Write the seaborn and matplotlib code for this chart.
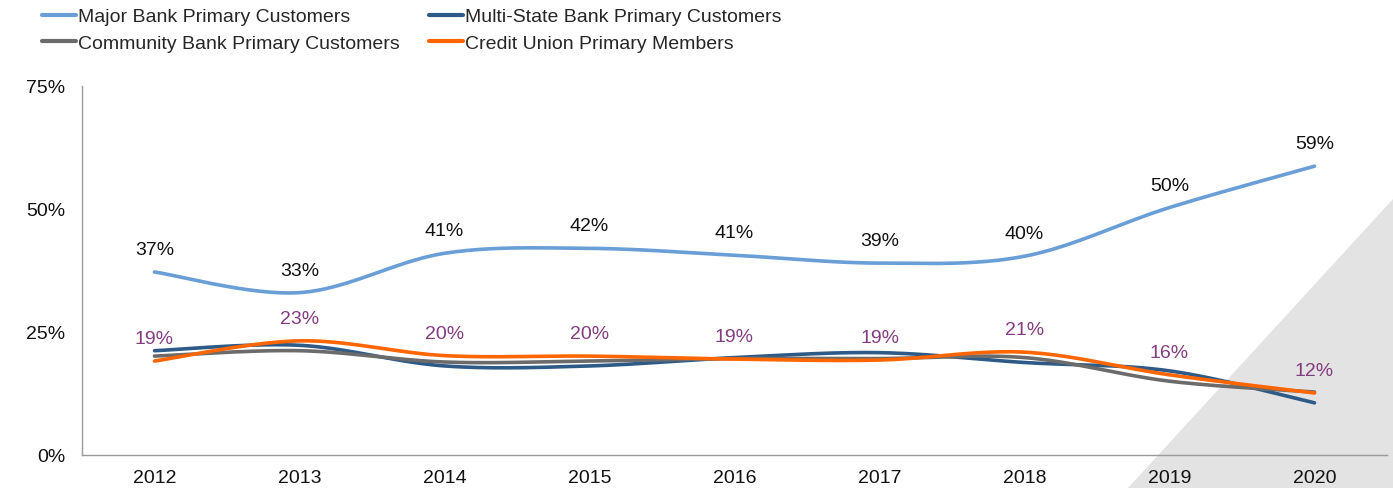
import numpy as np
import pandas as pd
import matplotlib
matplotlib.use("Agg")
import matplotlib.pyplot as plt
from matplotlib.patches import Polygon
import seaborn as sns

years = ["2012", "2013", "2014", "2015", "2016", "2017", "2018", "2019", "2020"]
major_bank = [37.2, 33.0, 41.0, 42.0, 40.6, 39.0, 40.4, 50.3, 58.7]
multi_state = [21.2, 22.3, 18.1, 18.1, 19.8, 20.8, 18.8, 17.1, 10.6]
community = [20.1, 21.2, 18.9, 19.1, 19.6, 19.6, 19.8, 15.0, 12.8]
credit_union = [19.1, 23.2, 20.2, 20.1, 19.5, 19.3, 20.9, 16.3, 12.6]
major_labels = ["37%", "33%", "41%", "42%", "41%", "39%", "40%", "50%", "59%"]
cu_labels = ["19%", "23%", "20%", "20%", "19%", "19%", "21%", "16%", "12%"]
series_names = ["Major Bank Primary Customers", "Multi-State Bank Primary Customers",
                "Community Bank Primary Customers", "Credit Union Primary Members"]
colors = ["#6A9ED6", "#2E5A87", "#6B6B6B", "#FF6600"]


def smooth(y, n=40):
    """Excel-style smoothed line (cubic Bezier through points)."""
    y = np.asarray(y, float)
    x = np.arange(len(y), dtype=float)
    P = np.column_stack([x, y])
    Pext = np.vstack([P[0], P, P[-1]])
    out = []
    t = np.linspace(0, 1, n)[:, None]
    for i in range(len(P) - 1):
        p0, p1, p2, p3 = Pext[i], Pext[i + 1], Pext[i + 2], Pext[i + 3]
        c1 = p1 + (p2 - p0) / 6.0
        c2 = p2 - (p3 - p1) / 6.0
        seg = ((1 - t) ** 3) * p1 + 3 * ((1 - t) ** 2) * t * c1 + 3 * (1 - t) * t ** 2 * c2 + t ** 3 * p2
        out.append(seg if i == 0 else seg[1:])
    s = np.vstack(out)
    return s[:, 0], s[:, 1]


frames = []
for name, vals in zip(series_names, [major_bank, multi_state, community, credit_union]):
    xs, ys = smooth(vals)
    frames.append(pd.DataFrame({"x": xs, "y": ys, "series": name}))
df = pd.concat(frames, ignore_index=True)

sns.set_style("white")
plt.rcParams["font.family"] = ["Liberation Sans", "DejaVu Sans"]

fig = plt.figure(figsize=(13.93, 4.89), dpi=100)
# grey background triangle in the lower right
tri = Polygon([[1128 / 1393, 0], [1.0, 1 - 200 / 489], [1.0, 0]], closed=True,
              transform=fig.transFigure, facecolor="#E3E3E3", edgecolor="none", zorder=-5)
fig.patches.append(tri)

ax = fig.add_axes([82 / 1393, 1 - 456 / 489, (1387 - 82) / 1393, (456 - 87) / 489])
ax.set_facecolor("none")
ax.set_zorder(2)

sns.lineplot(data=df, x="x", y="y", hue="series", hue_order=series_names,
             palette=colors, linewidth=2.6, sort=False, estimator=None, ax=ax, legend=False)

for i in range(len(years)):
    ax.annotate(major_labels[i], (i, major_bank[i]), xytext=(0, 10), textcoords="offset points",
                ha="center", va="bottom", fontsize=14, color="#111111")
    ax.annotate(cu_labels[i], (i, credit_union[i]), xytext=(0, 10), textcoords="offset points",
                ha="center", va="bottom", fontsize=14, color="#833C7F")

ax.set_xlim(-0.5, len(years) - 0.5)
ax.set_ylim(0, 75)
ax.set_xticks(range(len(years)))
ax.set_xticklabels(years)
ax.set_yticks([0, 25, 50, 75])
ax.set_yticklabels(["0%", "25%", "50%", "75%"])
ax.tick_params(axis="both", length=0, labelsize=14, colors="#111111")
ax.tick_params(axis="y", pad=12)
ax.tick_params(axis="x", pad=10)
ax.set_xlabel("")
ax.set_ylabel("")
for side in ["top", "right"]:
    ax.spines[side].set_visible(False)
for side in ["left", "bottom"]:
    ax.spines[side].set_color("#9A9A9A")
    ax.spines[side].set_linewidth(1.0)

handles = [plt.Line2D([], [], color=c, linewidth=3) for c in colors]
leg_order = [0, 2, 1, 3]
fig.legend([handles[i] for i in leg_order], [series_names[i] for i in leg_order],
           ncol=2, loc="upper left", bbox_to_anchor=(0.0217, 1.006), frameon=False,
           fontsize=14, handlelength=1.75, handletextpad=0.1, columnspacing=1.5,
           labelspacing=0.45, borderaxespad=0.2)

fig.savefig("out.png", dpi=100)
